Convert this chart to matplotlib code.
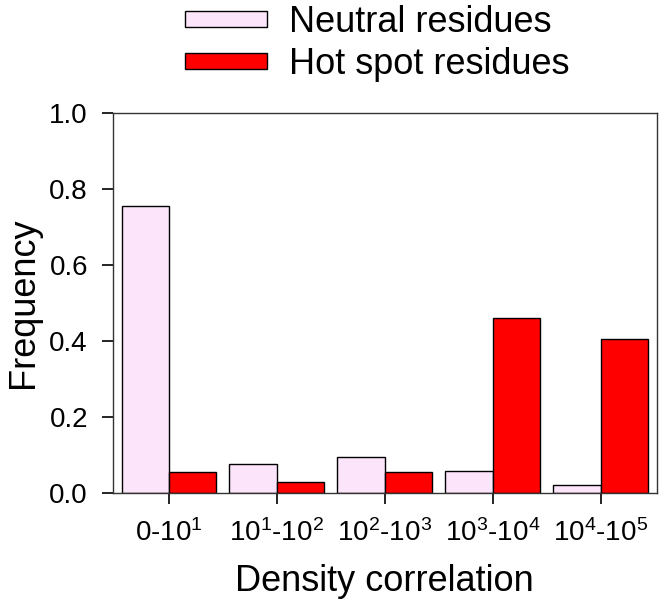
import numpy as np
import matplotlib
matplotlib.use("Agg")
import matplotlib.pyplot as plt

plt.rcParams["font.family"] = ["Liberation Sans", "DejaVu Sans"]
plt.rcParams["mathtext.fontset"] = "custom"
plt.rcParams["mathtext.rm"] = "Liberation Sans"
plt.rcParams["mathtext.it"] = "Liberation Sans"

categories = ["0-10$^1$", "10$^1$-10$^2$", "10$^2$-10$^3$", "10$^3$-10$^4$", "10$^4$-10$^5$"]
neutral = [0.755, 0.076, 0.095, 0.058, 0.020]
hot_spot = [0.055, 0.029, 0.055, 0.461, 0.405]
series_names = ["Neutral residues", "Hot spot residues"]

NEUTRAL_COLOR = "#FCE4FB"
HOT_COLOR = "#FF0000"

fig = plt.figure(figsize=(6.64, 6.09), dpi=100)
ax = fig.add_axes([0.170, 0.1905, 0.819, 0.624])

x = np.arange(len(categories))
w = 0.44
b1 = ax.bar(x - w / 2, neutral, w, color=NEUTRAL_COLOR, edgecolor="black", lw=1.0,
            label=series_names[0])
b2 = ax.bar(x + w / 2, hot_spot, w, color=HOT_COLOR, edgecolor="black", lw=1.0,
            label=series_names[1])

ax.set_xlim(-0.52, 4.52)
ax.set_ylim(0, 1.0)
ax.set_yticks([0.0, 0.2, 0.4, 0.6, 0.8, 1.0])
ax.set_yticklabels(["0.0", "0.2", "0.4", "0.6", "0.8", "1.0"])
ax.set_xticks(x)
ax.set_xticklabels(categories)
ax.tick_params(axis="both", direction="out", length=8, width=1.2, labelsize=20)
ax.tick_params(axis="y", pad=10)
ax.tick_params(axis="x", pad=11)
for s in ax.spines.values():
    s.set_linewidth(1.0)
    s.set_color("#333333")

ax.set_ylabel("Frequency", fontsize=26, labelpad=6)
ax.set_xlabel("Density correlation", fontsize=26, labelpad=12)

fig.legend(handles=[b1, b2], loc="upper center", bbox_to_anchor=(0.568, 1.045),
           frameon=False, fontsize=26, handlelength=2.28, handleheight=0.3,
           handletextpad=0.6, labelspacing=0.2)

fig.savefig("out.png", dpi=100)
